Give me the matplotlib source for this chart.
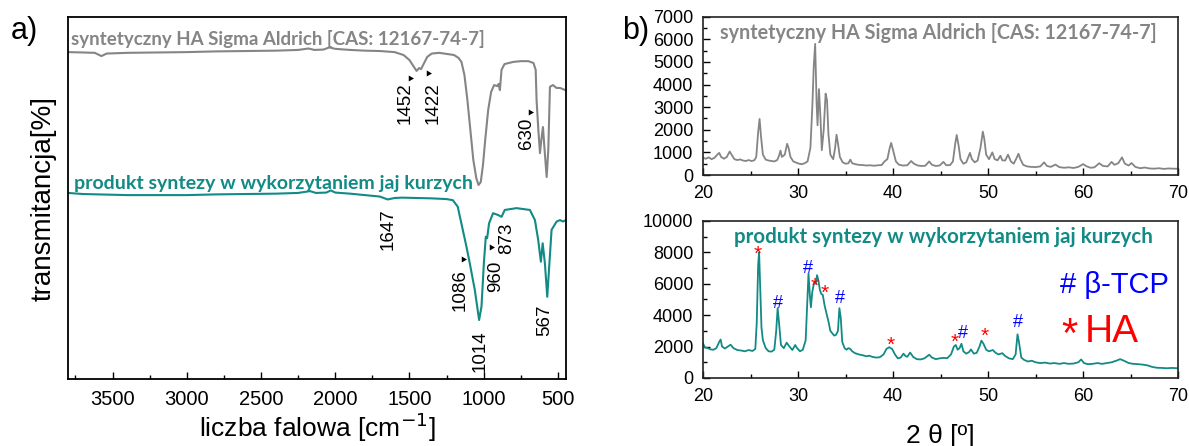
import matplotlib
matplotlib.use('Agg')
import matplotlib.pyplot as plt
from matplotlib.ticker import MultipleLocator

plt.rcParams['font.family'] = ['Liberation Sans', 'DejaVu Sans']

# --- FTIR (a): liczba falowa [cm-1] i transmitancja (jednostki umowne) ---
ir_ha_wn = [3800, 3700, 3620, 3575, 3540, 3400, 3200, 3000, 2800, 2600, 2400, 2250,
            2180, 2140, 2080, 2040, 2000, 1900, 1800, 1700, 1600, 1540, 1500, 1470,
            1452, 1435, 1422, 1405, 1380, 1350, 1300, 1250, 1200, 1170, 1150, 1130,
            1110, 1090, 1070, 1050, 1035, 1020, 1005, 990, 970, 950, 930, 910, 900,
            891, 880, 860, 800, 750, 700, 665, 650, 644, 632, 621, 612, 601, 590,
            576, 565, 554, 534, 510, 486, 450]
ir_ha_t = [90.3, 90.2, 90.1, 89.2, 89.9, 90.1, 90.2, 90.3, 90.5, 90.6, 90.7, 90.9,
           91.3, 90.9, 91.0, 91.6, 91.2, 90.9, 90.7, 90.6, 90.3, 89.5, 88.1, 86.2,
           85.1, 85.9, 85.6, 87.0, 89.0, 89.9, 90.1, 89.8, 89.5, 88.7, 87.6, 84.0,
           77.1, 68.8, 60.5, 55.5, 53.6, 54.4, 59.1, 66.0, 74.3, 79.3, 81.2, 80.9, 81.5,
           79.8, 85.4, 87.0, 87.6, 87.8, 87.8, 87.3, 85.4, 77.1, 68.8, 62.4, 66.0, 69.6, 63.3,
           55.8, 63.3, 80.7, 81.2, 80.4, 80.4, 79.8]

ir_egg_wn = [3800, 3700, 3600, 3400, 3200, 3000, 2800, 2600, 2400, 2250, 2170, 2130,
             2060, 2030, 2000, 1900, 1800, 1700, 1647, 1600, 1550, 1450, 1350, 1250,
             1208, 1175, 1141, 1116, 1094, 1060, 1031, 1015, 999, 986, 977, 964, 937,
             903, 880, 858, 779, 689, 655, 633, 615, 603, 588, 572, 559, 543, 509, 486,
             466, 446]
ir_egg_t = [51.4, 51.1, 51.0, 50.8, 50.8, 50.8, 51.0, 51.1, 51.2, 51.4, 51.9, 51.4,
            51.5, 52.1, 51.5, 51.2, 50.8, 50.4, 49.6, 50.0, 50.1, 50.0, 49.9, 49.7,
            49.4, 47.6, 41.2, 36.5, 32.0, 24.6, 16.3, 20.0, 32.0, 39.3, 38.9, 43.0, 45.8,
            45.3, 44.8, 46.7, 47.2, 46.7, 43.9, 38.4, 32.4, 37.5, 32.0, 22.7, 31.0, 41.2, 43.5, 43.9,
            43.5, 43.9]

# --- XRD (b): 2 theta [deg] i intensywnosc ---
xrd_ha_2t = [20.0, 20.3, 20.6, 20.9, 21.2, 21.5, 21.7, 21.9, 22.2, 22.5, 22.8, 23.0, 23.3,
             23.6, 23.9, 24.2, 24.5, 24.8, 25.1, 25.4, 25.6, 25.8, 25.95, 26.1, 26.3, 26.6,
             26.9, 27.2, 27.5, 27.8, 28.0, 28.15, 28.3, 28.6, 28.85, 29.0, 29.2, 29.5, 29.8,
             30.1, 30.4, 30.7, 31.0, 31.3, 31.5, 31.65, 31.8, 31.95, 32.05, 32.2, 32.35, 32.5,
             32.7, 32.9, 33.05, 33.2, 33.4, 33.7, 33.9, 34.05, 34.2, 34.4, 34.7, 35.0, 35.3,
             35.5, 35.7, 36.0, 36.4, 36.8, 37.2, 37.6, 38.0, 38.4, 38.8, 39.1, 39.4, 39.65,
             39.8, 40.0, 40.3, 40.6, 41.0, 41.5, 41.9, 42.2, 42.6, 43.0, 43.4, 43.8, 44.1,
             44.5, 44.9, 45.3, 45.6, 46.0, 46.3, 46.55, 46.7, 46.9, 47.1, 47.4, 47.7, 48.1,
             48.3, 48.6, 48.9, 49.2, 49.45, 49.6, 49.8, 50.1, 50.45, 50.7, 51.0, 51.3, 51.5,
             51.8, 52.1, 52.4, 52.7, 53.0, 53.2, 53.4, 53.7, 54.1, 54.5, 55.0, 55.5, 55.9,
             56.2, 56.6, 57.1, 57.5, 58.0, 58.5, 59.0, 59.5, 60.0, 60.4, 60.8, 61.2, 61.7,
             62.1, 62.6, 63.0, 63.3, 63.7, 64.1, 64.4, 64.8, 65.1, 65.5, 66.0, 66.5, 67.0,
             67.5, 68.0, 68.5, 69.0, 69.5, 70.0]
xrd_ha_i = [760, 720, 780, 700, 760, 900, 980, 800, 720, 800, 1040, 900, 700,
            660, 690, 640, 620, 660, 620, 650, 800, 1900, 2480, 1700, 900, 680,
            640, 620, 600, 660, 850, 1080, 800, 900, 1380, 1200, 800, 600, 550,
            500, 480, 520, 600, 1200, 3000, 4800, 5800, 3200, 2200, 3800, 2600, 1100,
            2000, 3600, 3300, 1800, 900, 700, 1200, 1780, 1400, 800, 560, 500, 520,
            680, 520, 480, 450, 440, 420, 430, 410, 430, 440, 600, 700, 1200,
            1420, 1100, 600, 460, 420, 430, 620, 500, 420, 400, 410, 600, 450,
            400, 420, 580, 430, 440, 600, 1400, 1770, 1300, 700, 500, 560, 980,
            700, 560, 640, 1200, 1920, 1600, 900, 700, 1000, 700, 650, 850, 650,
            640, 900, 600, 500, 750, 940, 700, 450, 380, 360, 350, 380, 560,
            400, 360, 460, 350, 320, 340, 310, 360, 480, 380, 320, 340, 520,
            400, 380, 580, 450, 520, 780, 500, 420, 530, 360, 300, 330, 290,
            280, 300, 270, 290, 280, 280]

xrd_egg_2t = [20.0, 20.2, 20.5, 20.8, 21.1, 21.4, 21.7, 21.85, 22.0, 22.3, 22.6, 22.9, 23.2,
              23.6, 24.0, 24.4, 24.8, 25.2, 25.5, 25.65, 25.8, 25.9, 26.0, 26.15, 26.3, 26.6,
              26.9, 27.2, 27.5, 27.7, 27.85, 28.0, 28.2, 28.5, 28.8, 29.1, 29.4, 29.7, 29.9,
              30.2, 30.5, 30.8, 30.95, 31.1, 31.25, 31.35, 31.5, 31.7, 31.85, 32.0, 32.15,
              32.3, 32.45, 32.6, 32.8, 33.0, 33.2, 33.4, 33.6, 33.8, 34.0, 34.2, 34.35, 34.5,
              34.65, 34.9, 35.1, 35.3, 35.5, 35.7, 36.0, 36.4, 36.8, 37.2, 37.5, 37.8, 38.2,
              38.6, 39.0, 39.3, 39.6, 39.9, 40.2, 40.5, 40.8, 41.1, 41.3, 41.5, 41.8, 42.1,
              42.5, 42.9, 43.3, 43.8, 44.1, 44.5, 44.9, 45.3, 45.7, 46.1, 46.4, 46.6, 46.8,
              47.0, 47.2, 47.4, 47.7, 48.0, 48.2, 48.5, 48.8, 49.1, 49.3, 49.5, 49.8, 50.1,
              50.5, 50.8, 51.1, 51.5, 51.8, 52.2, 52.6, 52.9, 53.1, 53.25, 53.5, 53.8, 54.2,
              54.6, 55.0, 55.5, 56.0, 56.5, 57.0, 57.5, 58.0, 58.5, 59.0, 59.5, 59.8, 60.1,
              60.5, 61.0, 61.5, 62.0, 62.5, 63.0, 63.5, 63.9, 64.3, 64.8, 65.3, 65.8, 66.3,
              66.8, 67.3, 67.8, 68.3, 68.8, 69.3, 70.0]
xrd_egg_i = [2200, 1950, 1900, 1820, 1800, 1900, 2300, 2450, 2000, 1880, 2000, 2120, 1900,
             1780, 1750, 1700, 1780, 1720, 1850, 3500, 7200, 8000, 6000, 3200, 2400, 1900,
             1700, 1680, 1800, 3000, 4450, 3500, 2100, 1900, 2250, 2000, 1780, 2100, 1900,
             1700, 1800, 2400, 4500, 6650, 5200, 4500, 5500, 6100, 6000, 6550, 6200,
             5600, 5350, 5300, 4600, 4100, 3600, 3000, 2850, 2700, 2750, 3000, 4450, 3800,
             2300, 1900, 1800, 1900, 1850, 1700, 1580, 1500, 1450, 1380, 1420, 1350, 1300,
             1320, 1500, 1850, 1960, 1850, 1500, 1250, 1300, 1550, 1400, 1350, 1620, 1350,
             1200, 1180, 1250, 1480, 1300, 1200, 1250, 1280, 1260, 1500, 2000, 2100, 1800,
             1900, 2180, 1700, 1550, 1650, 1820, 1550, 1600, 2000, 2380, 2200, 1800, 1700,
             1780, 1600, 1500, 1580, 1400, 1250, 1200, 1500, 2780, 2300, 1300, 1150, 1050,
             1100, 1000, 950, 980, 920, 950, 900, 950, 900, 920, 1000, 1180, 950,
             880, 900, 950, 900, 950, 1000, 1100, 1200, 1100, 950, 900, 880, 850,
             800, 700, 650, 640, 620, 640, 620]

# oznaczenia faz: symbol, 2 theta, wysokosc
phase_sym = ['*', '#', '#', '*', '*', '#', '*', '*', '#', '*', '#']
phase_2t = [25.8, 27.9, 31.0, 31.75, 32.8, 34.4, 39.8, 46.5, 47.4, 49.6, 53.1]
phase_h = [8200, 4750, 6950, 6200, 5750, 5050, 2420, 2650, 2850, 3000, 3550]

GRAY = '#858585'
TEAL = '#128a85'

fig = plt.figure(figsize=(11.89, 4.46), dpi=100)

# ---------------- panel a) ----------------
ax = fig.add_axes([0.0572, 0.1502, 0.4188, 0.8117])
ax.plot(ir_ha_wn, ir_ha_t, color=GRAY, lw=1.5)
ax.plot(ir_egg_wn, ir_egg_t, color=TEAL, lw=1.5)
ax.set_xlim(3800, 446)
ax.set_ylim(0, 100)
ax.set_yticks([])
ax.xaxis.set_major_locator(MultipleLocator(500))
ax.xaxis.set_minor_locator(MultipleLocator(250))
ax.tick_params(axis='x', which='major', direction='in', length=5, width=1, labelsize=14.5, pad=8)
ax.tick_params(axis='x', which='minor', direction='in', length=3, width=1)
for s in ax.spines.values():
    s.set_linewidth(1.3)
ax.set_xlabel('liczba falowa [cm$^{-1}$]', fontsize=19, labelpad=1)
ax.set_ylabel('transmitancja[%]', fontsize=20, labelpad=8)

ax.text(0.005, 0.94, 'syntetyczny HA Sigma Aldrich [CAS: 12167-74-7]', transform=ax.transAxes,
        color=GRAY, fontsize=13.5, fontweight='bold', family=['Lato', 'DejaVu Sans'], va='center')
ax.text(0.012, 0.54, 'produkt syntezy w wykorzytaniem jaj kurzych', transform=ax.transAxes,
        color=TEAL, fontsize=14, fontweight='bold', family=['Lato', 'DejaVu Sans'], va='center')

# opisy pasm: etykieta, polozenie tekstu (wn, T), grot (wn, T) lub None
ir_notes = [('1452', 1526, 76.2, (1499, 83.1)),
            ('1422', 1343, 76.2, (1377, 84.5)),
            ('630', 709, 67.8, (689, 73.8)),
            ('1647', 1647, 41.4, None),
            ('1086', 1161, 24.6, (1141, 33.2)),
            ('960', 920, 28.3, (952, 36.5)),
            ('873', 846, 38.8, None),
            ('1014', 1026, 7.6, None),
            ('567', 588, 16.3, None)]
for lab, tx, ty, head in ir_notes:
    ax.text(tx, ty, lab, rotation=90, ha='center', va='center', fontsize=13.5)
    if head is not None:
        ax.plot(head[0], head[1], marker=(3, 0, 30), color='black', ms=5, mew=0)

fig.text(0.009, 0.93, 'a)', fontsize=22, va='center')

# ---------------- panel b) gora ----------------
ax1 = fig.add_axes([0.5913, 0.6076, 0.3995, 0.3549])
ax1.plot(xrd_ha_2t, xrd_ha_i, color=GRAY, lw=1.3)
ax1.set_xlim(20, 70)
ax1.set_ylim(0, 7000)
ax1.xaxis.set_major_locator(MultipleLocator(10))
ax1.xaxis.set_minor_locator(MultipleLocator(5))
ax1.yaxis.set_major_locator(MultipleLocator(1000))
ax1.yaxis.set_minor_locator(MultipleLocator(500))
ax1.text(0.495, 0.9, 'syntetyczny HA Sigma Aldrich [CAS: 12167-74-7]', transform=ax1.transAxes,
         color=GRAY, fontsize=14.2, fontweight='bold', family=['Lato', 'DejaVu Sans'],
         ha='center', va='center')

# ---------------- panel b) dol ----------------
ax2 = fig.add_axes([0.5913, 0.1525, 0.3995, 0.352])
ax2.plot(xrd_egg_2t, xrd_egg_i, color=TEAL, lw=1.3)
ax2.set_xlim(20, 70)
ax2.set_ylim(0, 10000)
ax2.xaxis.set_major_locator(MultipleLocator(10))
ax2.xaxis.set_minor_locator(MultipleLocator(5))
ax2.yaxis.set_major_locator(MultipleLocator(2000))
ax2.yaxis.set_minor_locator(MultipleLocator(1000))
ax2.text(0.507, 0.895, 'produkt syntezy w wykorzytaniem jaj kurzych', transform=ax2.transAxes,
         color=TEAL, fontsize=14.8, fontweight='bold', family=['Lato', 'DejaVu Sans'],
         ha='center', va='center')
for sym, t2, h in zip(phase_sym, phase_2t, phase_h):
    if sym == '*':
        ax2.text(t2, h - 350, sym, color='red', ha='center', va='center', fontsize=15)
    else:
        ax2.text(t2, h, sym, color='blue', ha='center', va='center', fontsize=13)
ax2.text(57.6, 5900, '# β-TCP', color='blue', fontsize=21, ha='left', va='center')
ax2.text(57.7, 2700, '*', color='red', fontsize=30, ha='left', va='center')
ax2.text(60.2, 2900, 'HA', color='red', fontsize=28, ha='left', va='center')
ax2.set_xlabel('2 θ [º]', fontsize=19, labelpad=14)

for a in (ax1, ax2):
    a.tick_params(which='major', direction='in', length=5, width=1, labelsize=13, pad=7)
    a.tick_params(which='minor', direction='in', length=3, width=1)
    for s in a.spines.values():
        s.set_linewidth(1.2)
        s.set_color('#222222')

fig.text(0.523, 0.93, 'b)', fontsize=22, va='center')

fig.savefig('out.png', dpi=100)
